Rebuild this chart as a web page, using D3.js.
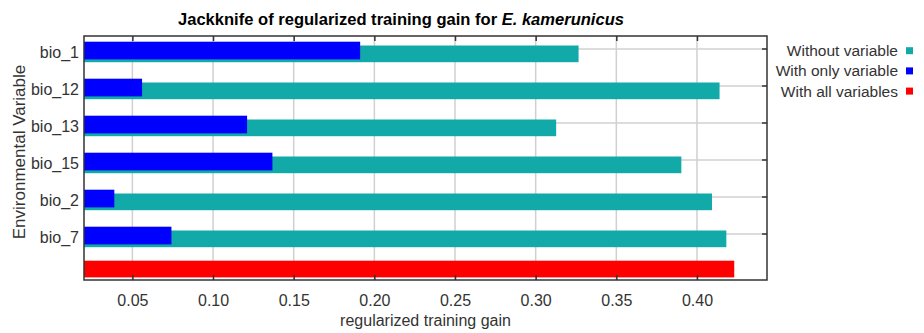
<!DOCTYPE html>
<html>
<head>
<meta charset="utf-8">
<script src="https://cdn.jsdelivr.net/npm/d3@7"></script>
<style>
  html, body { margin: 0; padding: 0; background: #fff; }
  svg { display: block; }
  text { font-family: "Liberation Sans", Arial, sans-serif; fill: #333; }
</style>
</head>
<body>
<svg id="chart" width="924" height="333"></svg>
<script>
// Jackknife results (regularized training gain)
const variables = ["bio_1", "bio_12", "bio_13", "bio_15", "bio_2", "bio_7"];
const withoutVariable = [0.3266, 0.4140, 0.3127, 0.3903, 0.4093, 0.4182];
const withOnlyVariable = [0.1912, 0.0560, 0.1211, 0.1368, 0.0388, 0.0742];
const withAllVariables = 0.4231;
const xTicks = [0.05, 0.10, 0.15, 0.20, 0.25, 0.30, 0.35, 0.40];
const legendLabels = ["Without variable", "With only variable", "With all variables"];
const colors = ["#11aaa8", "#0000ff", "#ff0000"];

const svg = d3.select("#chart");
const plot = { left: 84, right: 767, top: 36, bottom: 280 };

const x = d3.scaleLinear()
  .domain([0.02, withAllVariables * 1.048])
  .range([plot.left, plot.right]);

// one row per variable; tick marks sit at each row centre
const y = d3.scaleBand()
  .domain(variables)
  .range([30.5, 252.5])
  .padding(0);

const rows = variables.map((v, i) => ({
  name: v, without: withoutVariable[i], only: withOnlyVariable[i]
}));

// grid
const grid = svg.append("g").attr("stroke", "#d0d0d0").attr("stroke-width", 1.5);
grid.selectAll("line.v").data(xTicks).join("line")
  .attr("class", "v")
  .attr("x1", d => x(d)).attr("x2", d => x(d))
  .attr("y1", plot.top).attr("y2", plot.bottom);
grid.selectAll("line.h").data(variables).join("line")
  .attr("class", "h")
  .attr("x1", plot.left).attr("x2", plot.right)
  .attr("y1", d => y(d) + y.bandwidth() / 2)
  .attr("y2", d => y(d) + y.bandwidth() / 2);

// bars: "without" underneath, "with only" on top
svg.append("g").selectAll("rect").data(rows).join("rect")
  .attr("x", x(x.domain()[0]))
  .attr("y", d => y(d.name) + 15)
  .attr("width", d => x(d.without) - x(x.domain()[0]))
  .attr("height", 16.7)
  .attr("fill", colors[0]);

svg.append("g").selectAll("rect").data(rows).join("rect")
  .attr("x", x(x.domain()[0]))
  .attr("y", d => y(d.name) + 11.2)
  .attr("width", d => x(d.only) - x(x.domain()[0]))
  .attr("height", 17.7)
  .attr("fill", colors[1]);

svg.append("rect")
  .attr("x", x(x.domain()[0]))
  .attr("y", y.range()[1] + 8.2)
  .attr("width", x(withAllVariables) - x(x.domain()[0]))
  .attr("height", 16.7)
  .attr("fill", colors[2]);

// axes with inward ticks
const bottomAxis = svg.append("g")
  .attr("transform", `translate(0,${plot.bottom})`)
  .call(d3.axisBottom(x).tickValues(xTicks).tickFormat(d3.format(".2f"))
    .tickSizeInner(-5).tickSizeOuter(0).tickPadding(14.5));
bottomAxis.select(".domain").remove();
bottomAxis.selectAll("line").attr("stroke", "#333").attr("stroke-width", 1.5);
bottomAxis.selectAll("text").attr("font-size", 16).attr("fill", "#333")
  .attr("font-family", "Liberation Sans, Arial, sans-serif");

const topAxis = svg.append("g")
  .attr("transform", `translate(0,${plot.top})`)
  .call(d3.axisTop(x).tickValues(xTicks).tickFormat("")
    .tickSizeInner(-5).tickSizeOuter(0));
topAxis.select(".domain").remove();
topAxis.selectAll("line").attr("stroke", "#333").attr("stroke-width", 1.5);

const rightAxis = svg.append("g")
  .attr("transform", `translate(${plot.right},0)`)
  .call(d3.axisRight(y).tickFormat("").tickSizeInner(-5).tickSizeOuter(0));
rightAxis.select(".domain").remove();
rightAxis.selectAll("line").attr("stroke", "#333").attr("stroke-width", 1.5);

// category labels
svg.append("g").selectAll("text").data(variables).join("text")
  .attr("x", 79)
  .attr("y", d => y(d) + 27.5)
  .attr("text-anchor", "end")
  .attr("font-size", 16)
  .text(d => d);

// frame
svg.append("rect")
  .attr("x", plot.left).attr("y", plot.top)
  .attr("width", plot.right - plot.left).attr("height", plot.bottom - plot.top)
  .attr("fill", "none").attr("stroke", "#333").attr("stroke-width", 1.5);

// titles
const title = svg.append("text")
  .attr("x", 401).attr("y", 25)
  .attr("text-anchor", "middle")
  .attr("font-size", 16.5)
  .attr("font-weight", "bold")
  .style("font-family", "'Liberation Sans', Arial, sans-serif")
  .style("fill", "#000")
  .attr("textLength", 446)
  .attr("lengthAdjust", "spacingAndGlyphs");
title.append("tspan").text("Jackknife of regularized training gain for ");
title.append("tspan").attr("font-style", "italic").text("E. kamerunicus");

svg.append("text")
  .attr("x", (plot.left + plot.right) / 2).attr("y", 326)
  .attr("text-anchor", "middle")
  .attr("font-size", 16)
  .text("regularized training gain");

svg.append("text")
  .attr("transform", "translate(24.5,152) rotate(-90)")
  .attr("text-anchor", "middle")
  .attr("font-size", 17)
  .text("Environmental Variable");

// legend
const legend = svg.append("g").selectAll("g").data(legendLabels).join("g")
  .attr("transform", (d, i) => `translate(0,${50.7 + i * 20.2})`);
legend.append("text")
  .attr("x", 898).attr("y", 5.5)
  .attr("text-anchor", "end")
  .attr("font-size", 15.5)
  .text(d => d);
legend.append("rect")
  .attr("x", 906).attr("y", -3.5)
  .attr("width", 7).attr("height", 7)
  .attr("fill", (d, i) => colors[i]);
</script>
</body>
</html>
